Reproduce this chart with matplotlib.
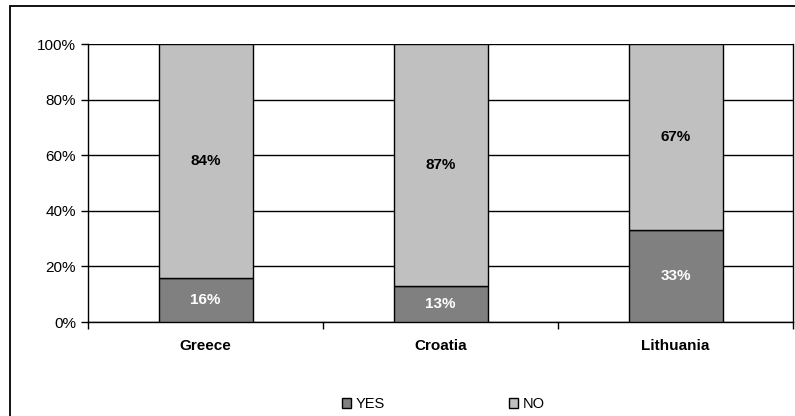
import matplotlib.pyplot as plt
from matplotlib.patches import Rectangle

plt.rcParams['font.family'] = ['Liberation Sans', 'DejaVu Sans']

countries = ['Greece', 'Croatia', 'Lithuania']
yes_vals = [16, 13, 33]
no_vals = [84, 87, 67]

fig = plt.figure(figsize=(7.95, 4.16), dpi=100)
# outer chart frame
fig.patches.append(Rectangle((10 / 795, -0.05), 1.2, (416 - 6) / 416 + 0.05,
                             transform=fig.transFigure, fill=False,
                             edgecolor='black', linewidth=1.3))
ax = fig.add_axes([88 / 795, (416 - 322) / 416, (793 - 88) / 795, (322 - 44) / 416])

x = range(len(countries))
ax.bar(x, yes_vals, width=0.4, color='#808080', edgecolor='black', linewidth=1, zorder=3, label='YES')
ax.bar(x, no_vals, width=0.4, bottom=yes_vals, color='#C0C0C0', edgecolor='black', linewidth=1, zorder=3, label='NO')

for i in x:
    ax.text(i, yes_vals[i] / 2, f'{yes_vals[i]}%', ha='center', va='center',
            color='white', fontweight='bold', fontsize=11, zorder=4)
    ax.text(i, yes_vals[i] + no_vals[i] / 2, f'{no_vals[i]}%', ha='center', va='center',
            color='black', fontweight='bold', fontsize=11, zorder=4)

ax.set_xlim(-0.5, 2.5)
ax.set_ylim(0, 100)
ax.set_yticks(range(0, 101, 20))
ax.set_yticklabels([f'{v}%' for v in range(0, 101, 20)], fontsize=11)
ax.yaxis.grid(True, color='black', linewidth=1)
ax.set_axisbelow(True)

ax.set_xticks([-0.5, 0.5, 1.5, 2.5])
ax.set_xticklabels([])
ax.set_xticks(list(x), minor=True)
ax.set_xticklabels(countries, minor=True, fontweight='bold', fontsize=11)
ax.tick_params(axis='x', which='minor', length=0, pad=12)
ax.tick_params(axis='x', which='major', length=5, direction='out', width=1)
ax.tick_params(axis='y', length=5, direction='out', width=1)

ax.spines['top'].set_visible(False)
for s in ['left', 'bottom', 'right']:
    ax.spines[s].set_linewidth(1)

fig.legend(loc='center', bbox_to_anchor=(443 / 795, (416 - 404) / 416), ncol=2,
           frameon=False, fontsize=10.5, handlelength=0.65, handleheight=0.65,
           columnspacing=8.5, handletextpad=0.3)

fig.savefig('out.png', dpi=100)
